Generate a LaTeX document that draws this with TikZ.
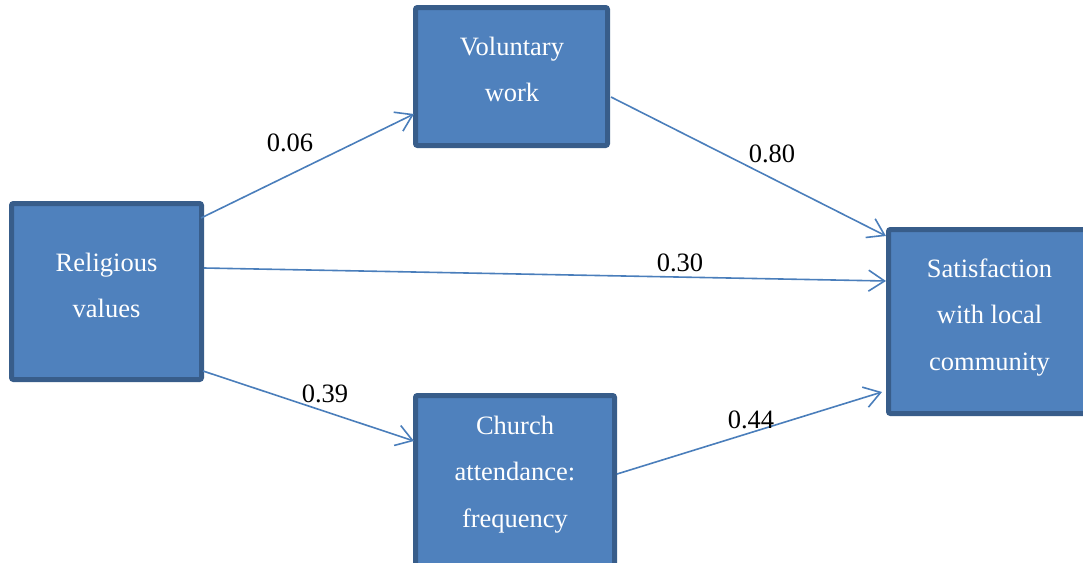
\documentclass[tikz,border=0pt]{standalone}
\usepackage{fontspec}
\setmainfont{Liberation Serif}
\usetikzlibrary{arrows.meta,calc}
\definecolor{boxfill}{HTML}{4F81BD}
\definecolor{boxline}{HTML}{385D8A}
\definecolor{arrcol}{HTML}{4A7EBB}
\tikzset{
  varbox/.style={draw=boxline, fill=boxfill, line width=5pt, rounded corners=2pt, inner sep=0pt},
  boxtext/.style={text=white, align=center, inner sep=0pt, font=\fontsize{26.5}{46.5}\selectfont},
  coef/.style={text=black, inner sep=0pt, font=\fontsize{26.5}{30}\selectfont},
  arr/.style={draw=arrcol, line width=1.6pt, -{Straight Barb[length=16pt,width=21pt,line width=1.6pt]}}
}
\begin{document}
\begin{tikzpicture}[x=1pt,y=-1pt]
\useasboundingbox (0,0) rectangle (1083,562);
\clip (0,0) rectangle (1083,562);
% boxes
\node[varbox, minimum width=190pt, minimum height=176pt] (rv) at (106.5,291.5) {};
\node[varbox, minimum width=192pt, minimum height=138pt] (vw) at (511.5,76.5) {};
\node[varbox, minimum width=199pt, minimum height=172pt] (ch) at (515,481.5) {};
\node[varbox, minimum width=201pt, minimum height=184pt] (sat) at (989,321.5) {};
% texts
\node[boxtext] (rvt) at (106.5,285.6) {Religious\\values};
\node[boxtext] (vwt) at (512,69.5) {Voluntary\\work};
\node[boxtext] (cht) at (515,474.5) {Church\\attendance:\\frequency};
\node[boxtext] (satt) at (989.5,317.3) {Satisfaction\\with local\\community};
% connectors
\draw[arr] ($(rv.north east)+(-3,17)$) -- ($(vw.west)+(1,37.5)$);
\draw[arr] ($(vw.east)+(1,20.5)$) -- ($(sat.north west)+(0,9)$);
\draw[arr] ($(rv.east)+(0,-23.5)$) -- ($(sat.west)+(0,-40.5)$);
\draw[arr] ($(rv.south east)+(-1,-11)$) -- ($(ch.north west)+(1,48)$);
\draw[arr] ($(ch.east)+(0,-7.5)$) -- ($(sat.south west)+(-4,-24)$);
% coefficients
\node[coef] (c1) at (290,143) {0.06};
\node[coef] (c2) at (772,154) {0.80};
\node[coef] (c3) at (680,263) {0.30};
\node[coef] (c4) at (325,394) {0.39};
\node[coef] (c5) at (751,420) {0.44};
\end{tikzpicture}
\end{document}
